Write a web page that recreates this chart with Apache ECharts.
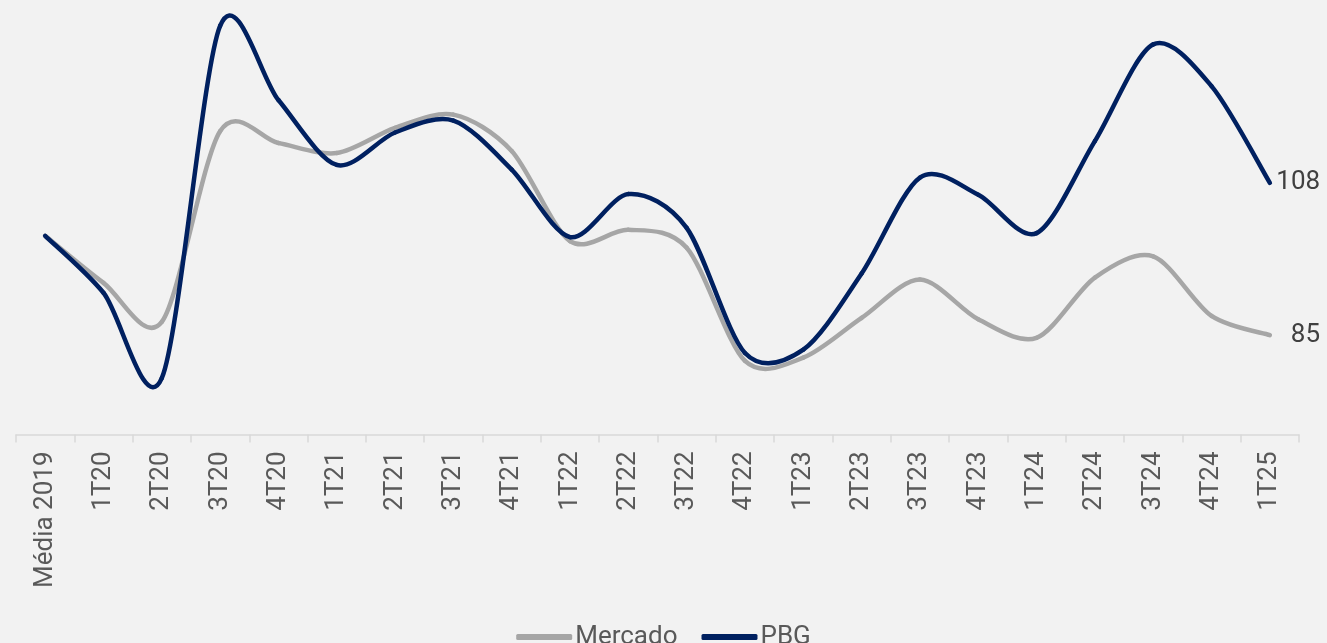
<!DOCTYPE html>
<html>
<head>
<meta charset="utf-8">
<script src="https://cdn.jsdelivr.net/npm/echarts@6/dist/echarts.min.js"></script>
<style>
  html, body { margin: 0; padding: 0; background: #f2f2f2; }
  #chart { width: 1327px; height: 643px; }
</style>
</head>
<body>
<div id="chart"></div>
<script>
// Quarterly index (base: Média 2019 = 100)
const categories = ['Média 2019', '1T20', '2T20', '3T20', '4T20', '1T21', '2T21', '3T21', '4T21',
  '1T22', '2T22', '3T22', '4T22', '1T23', '2T23', '3T23', '4T23', '1T24', '2T24', '3T24', '4T24', '1T25'];

const mercado = [100, 92.9, 87.0, 115.8, 114.0, 112.5, 116.3, 118.3, 112.8, 99.2, 100.9, 98.2,
  81.1, 81.6, 87.6, 93.4, 87.4, 84.6, 93.7, 96.9, 87.9, 85];

const pbg = [100, 91.4, 78.5, 131.7, 120.5, 110.7, 115.6, 117.4, 110.0, 99.8, 106.3, 101.2,
  82.3, 82.8, 94.3, 108.8, 106.2, 100.4, 114.3, 128.9, 122.6, 108];

const seriesNames = ['Mercado', 'PBG'];
const seriesColors = ['#a6a6a6', '#002060'];

const textColor = '#595959';
const fontFamily = 'Roboto, sans-serif';
// Catmull-Rom style tension for the smoothed curves
const TENSION = 0.15;

// Smoothed line drawn segment by segment (cubic Bézier through each data point),
// with the value written just right of the last point.
function smoothLineSeries(name, values, color, labelGap) {
  const n = values.length;
  return {
    name: name,
    type: 'custom',
    data: values.map((v, i) => [i, v]),
    encode: { x: 0, y: 1 },
    itemStyle: { color: color },
    clip: false,
    renderItem: function (params, api) {
      const i = params.dataIndex;
      const pt = k => {
        const j = Math.max(0, Math.min(n - 1, k));
        return api.coord([j, values[j]]);
      };
      if (i < n - 1) {
        const p0 = pt(i - 1), p1 = pt(i), p2 = pt(i + 1), p3 = pt(i + 2);
        return {
          type: 'bezierCurve',
          shape: {
            x1: p1[0], y1: p1[1],
            x2: p2[0], y2: p2[1],
            cpx1: p1[0] + (p2[0] - p0[0]) * TENSION,
            cpy1: p1[1] + (p2[1] - p0[1]) * TENSION,
            cpx2: p2[0] - (p3[0] - p1[0]) * TENSION,
            cpy2: p2[1] - (p3[1] - p1[1]) * TENSION
          },
          style: { stroke: color, lineWidth: 4.5, fill: 'none', lineCap: 'round', lineJoin: 'round' }
        };
      }
      const p = pt(i);
      return {
        type: 'text',
        x: p[0] + labelGap,
        y: p[1],
        style: {
          text: String(values[i]),
          fill: '#404040',
          fontSize: 26,
          fontFamily: fontFamily,
          align: 'left',
          verticalAlign: 'middle'
        }
      };
    }
  };
}

const chart = echarts.init(document.getElementById('chart'));

chart.setOption({
  backgroundColor: '#f2f2f2',
  animation: false,
  grid: { left: 16, right: 28, top: 4, bottom: 208.5, containLabel: false },
  legend: {
    data: seriesNames,
    left: 'center',
    top: 619,
    icon: 'roundRect',
    itemWidth: 56,
    itemHeight: 6,
    itemGap: 24,
    textStyle: { color: textColor, fontSize: 26, fontFamily: fontFamily, padding: [0, 0, 0, -2] }
  },
  xAxis: {
    type: 'category',
    data: categories,
    boundaryGap: true,
    axisLine: { lineStyle: { color: '#d9d9d9', width: 1.5 } },
    axisTick: { show: true, length: 8, lineStyle: { color: '#d9d9d9', width: 1.5 } },
    axisLabel: {
      rotate: 90,
      margin: 17,
      interval: 0,
      color: textColor,
      fontSize: 26,
      fontFamily: fontFamily
    }
  },
  yAxis: {
    type: 'value',
    min: 70,
    max: 135,
    show: false,
    splitLine: { show: false }
  },
  series: [
    smoothLineSeries(seriesNames[0], mercado, seriesColors[0], 21),
    smoothLineSeries(seriesNames[1], pbg, seriesColors[1], 6.5)
  ]
});
</script>
</body>
</html>
